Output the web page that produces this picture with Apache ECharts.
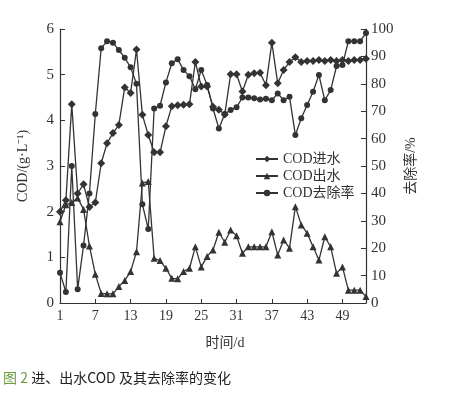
<!DOCTYPE html>
<html>
<head>
<meta charset="utf-8">
<script src="https://cdn.jsdelivr.net/npm/echarts@6/dist/echarts.min.js"></script>
<style>
html,body{margin:0;padding:0;background:#fff;}
#chart{width:468px;height:395px;}
</style>
</head>
<body>
<div id="chart"></div>
<script>
var days = ['1','2','3','4','5','6','7','8','9','10','11','12','13','14','15','16','17','18','19','20',
  '21','22','23','24','25','26','27','28','29','30','31','32','33','34','35','36','37','38','39','40',
  '41','42','43','44','45','46','47','48','49','50','51','52','53'];
var codIn = [2.0,2.25,4.35,2.4,2.6,2.1,2.2,3.06,3.5,3.72,3.9,4.72,4.6,5.55,4.12,3.68,3.3,3.3,3.87,4.31,
  4.33,4.34,4.35,5.28,4.74,4.74,4.3,4.23,4.13,5.01,5.01,4.63,5.0,5.03,5.04,4.77,5.7,4.81,5.1,5.28,
  5.38,5.28,5.3,5.3,5.32,5.3,5.32,5.3,5.32,5.3,5.32,5.32,5.35];
var codOut = [1.78,2.15,2.2,2.3,2.05,1.25,0.63,0.21,0.2,0.2,0.36,0.49,0.69,1.12,2.63,2.66,0.98,0.93,0.76,0.54,
  0.53,0.69,0.76,1.23,0.79,1.02,1.16,1.55,1.33,1.6,1.47,1.09,1.23,1.23,1.23,1.23,1.56,1.05,1.38,1.2,
  2.11,1.71,1.53,1.23,0.94,1.45,1.23,0.65,0.79,0.28,0.28,0.28,0.14];
var removal = [11,4,50,5,21,40,69,93,95.5,95,92.3,89.5,86,80,36,27,71,72,80.5,87.5,
  89,85,82.8,78,85,79.6,71,63.7,69,70.4,71.4,75,75,74.7,74.3,74.5,74,76.5,74,75.3,
  61.3,67.4,72.3,77.1,83.2,74,77.7,86.5,86.9,95.5,95.5,95.5,98.5];
var leftTicks = {min:0, max:6, interval:1};
var rightTicks = {min:0, max:100, interval:10};

var serif = "'Liberation Serif','Noto Sans CJK SC',serif";
var ink = '#333';
var chart = echarts.init(document.getElementById('chart'));
function lineSeries(name, data, symbol, size, yIdx){
  return {
    name:name, type:'line', data:data, yAxisIndex:yIdx,
    symbol:symbol, symbolSize:size, showAllSymbol:true,
    lineStyle:{color:ink, width:1.3},
    itemStyle:{color:ink, borderColor:ink, borderWidth:0},
    emphasis:{disabled:true}, animation:false
  };
}
chart.setOption({
  animation:false,
  grid:{left:60, right:102, top:29, bottom:92, containLabel:false},
  legend:{
    orient:'vertical', left:250, top:147, itemGap:3, itemWidth:22, itemHeight:8,
    textStyle:{fontFamily:serif, fontSize:14, color:ink},
    data:['COD进水','COD出水','COD去除率']
  },
  xAxis:{
    type:'category', data:days, boundaryGap:false,
    name:'时间/d', nameLocation:'middle', nameGap:33,
    nameTextStyle:{fontFamily:serif, fontSize:14, color:ink, padding:[0,0,0,24]},
    axisLine:{lineStyle:{color:ink, width:1.2}},
    axisTick:{inside:true, length:4, interval:5, lineStyle:{color:ink}},
    axisLabel:{interval:5, margin:6, fontFamily:serif, fontSize:14, color:ink},
    splitLine:{show:false}
  },
  yAxis:[{
    type:'value', min:leftTicks.min, max:leftTicks.max, interval:leftTicks.interval,
    name:'COD/(g·L⁻¹)', nameLocation:'middle', nameGap:30,
    nameTextStyle:{fontFamily:serif, fontSize:14, color:ink},
    axisLine:{show:true, lineStyle:{color:ink, width:1.2}},
    axisTick:{show:true, inside:true, length:5, lineStyle:{color:ink}},
    axisLabel:{margin:6, fontFamily:serif, fontSize:15, color:ink},
    splitLine:{show:false}
  },{
    type:'value', position:'right', min:rightTicks.min, max:rightTicks.max, interval:rightTicks.interval,
    name:'去除率/%', nameLocation:'middle', nameGap:27, nameRotate:90,
    nameTextStyle:{fontFamily:serif, fontSize:14, color:ink},
    axisLine:{show:true, lineStyle:{color:ink, width:1.2}},
    axisTick:{show:true, inside:true, length:5, lineStyle:{color:ink}},
    axisLabel:{margin:5, fontFamily:serif, fontSize:15, color:ink},
    splitLine:{show:false}
  }],
  series:[
    lineSeries('COD进水', codIn, 'diamond', 8, 0),
    lineSeries('COD出水', codOut, 'triangle', 7, 0),
    lineSeries('COD去除率', removal, 'circle', 6, 1)
  ],
  graphic:[{
    type:'text', left:3, top:371,
    style:{
      text:'{g|图 2} {t|进、出水COD 及其去除率的变化}',
      rich:{
        g:{fill:'#6b9a3c', fontSize:14, fontFamily:"'Noto Sans CJK SC',sans-serif"},
        t:{fill:'#222', fontSize:14, fontFamily:"'Noto Sans CJK SC',sans-serif"}
      }
    }
  }]
});
</script>
</body>
</html>
